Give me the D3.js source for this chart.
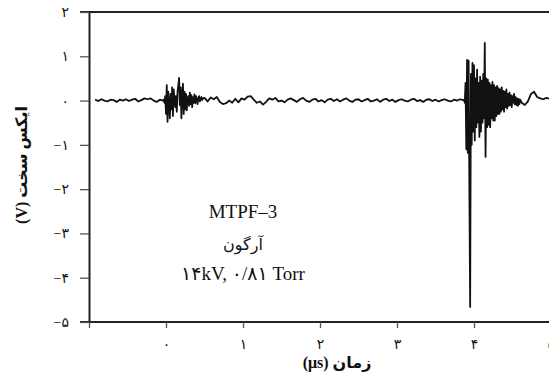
<!DOCTYPE html>
<html>
<head>
<meta charset="utf-8">
<script src="https://cdn.jsdelivr.net/npm/d3@7"></script>
<style>
  body { margin: 0; background: #fff; }
  svg { display: block; }
  .tick text { font-family: 'Liberation Serif', 'DejaVu Sans', serif; font-size: 14px; fill: #111; }
</style>
</head>
<body>
<div class="chart"></div>
<script>
// Hard X-ray signal, MTPF-3, argon
// time axis in microseconds, voltage in volts

// sampled segments of the trace (volts), each with its own start time and step
let preVolts = [0.02, -0.01, 0.03, 0.0, -0.02, 0.02, 0.01, -0.03, 0.02, 0.0, 0.03,
  -0.01, 0.02, 0.04, -0.02, 0.01, 0.05, 0.03, 0.05, 0.0, -0.03, 0.02];
let burst1Volts = [0.0, 0.02, -0.05, 0.1, -0.3, 0.35, -0.48, 0.2, -0.1, -0.4, 0.15,
  -0.2, 0.3, -0.35, 0.25, 0.05, -0.15, 0.1, -0.25, 0.2, 0.35, 0.51, -0.1, 0.3,
  -0.4, 0.1, 0.38, -0.3, 0.2, -0.2, 0.15, -0.22, 0.05, 0.1, -0.12, 0.18, -0.08,
  0.12, -0.15, 0.08, -0.05, 0.14, -0.06, 0.1, 0.02, -0.08, 0.06, 0.1, -0.02, 0.04,
  0.08, 0.01, 0.05];
let midVolts = [0.06, -0.02, 0.07, 0.03, 0.08, -0.03, -0.08, -0.06, 0.0, -0.05, 0.04,
  -0.04, 0.05, 0.02, 0.09, 0.1, 0.02, -0.05, -0.02, -0.09, -0.03, 0.05, 0.02, 0.06,
  -0.02, 0.0, -0.04, 0.02, 0.05, 0.01, -0.03, 0.03, 0.06, 0.0, -0.03, 0.02, 0.04,
  -0.02, 0.01, -0.04, 0.02, 0.04, -0.01, 0.03, -0.02, 0.02, 0.05, 0.0, -0.03, 0.02,
  0.03, -0.02, 0.01, 0.04, -0.02, 0.0, 0.03, -0.03, 0.02, 0.04, -0.01, 0.02, -0.03,
  0.01, 0.03, 0.0, -0.02, 0.02, 0.04, -0.01, 0.01, -0.03, 0.02, 0.03, -0.01, 0.02,
  -0.02, 0.01, 0.03, 0.0, -0.02, 0.02, 0.0, 0.03, 0.01];
let burst2Volts = [0.02, -0.05, 0.4, -1.1, 0.92, -1.18, 0.9, -2.0, -4.66, 0.6, -1.0,
  0.85, -0.7, 0.8, -0.9, 0.5, -0.6, 0.7, -0.5, 0.4, -0.82, 0.54, -0.7, 0.45, -0.5,
  0.6, -0.4, 1.3, -1.27, 0.5, -0.6, 0.47, -0.55, 0.4, -0.6, 0.35, -0.4, 0.42, -0.45,
  0.35, -0.45, 0.3, -0.35, 0.33, -0.3, 0.28, -0.3, 0.25, -0.25, 0.3, -0.2, 0.22,
  -0.25, 0.2, -0.15, 0.25, -0.18, 0.15, -0.12, 0.18, -0.1, 0.12, -0.15, 0.1, -0.05,
  0.15, -0.08, 0.08, -0.1, 0.05, -0.12, 0.04, -0.08, 0.02];
let postVolts = [-0.05, -0.1, -0.02, 0.15, 0.2, 0.08, 0.05, 0.03, 0.06, 0.04];

let segments = [
  {t0: -0.92, dt: 0.04, v: preVolts},
  {t0: -0.04, dt: 0.01, v: burst1Volts},
  {t0: 0.50, dt: 0.04, v: midVolts},
  {t0: 3.87, dt: 0.01, v: burst2Volts},
  {t0: 4.62, dt: 0.04, v: postVolts}
];

// ticks
let xTicks = [-1, 0, 1, 2, 3, 4, 5];
let yTicks = [-5, -4, -3, -2, -1, 0, 1, 2];

// labels
let xTitle = 'زمان (μs)';
let yTitle = 'ایکس سخت (V)';
let noteLines = ['MTPF–3', 'آرگون', '۱۴kV, ۰/۸۱ Torr'];

// Margins
let margin = {top: 12, left: 89};
let width = 462;
let height = 310;

let xScale = d3.scaleLinear().domain([-1, 5]).range([0, width]);
let yScale = d3.scaleLinear().domain([-5, 2]).range([height, 0]);

// persian digits
function fa(n) {
  return String(n).replace(/\d/g, function(d) { return '۰۱۲۳۴۵۶۷۸۹'[+d]; }).replace('-', '−');
}

let data = [];
segments.forEach(function(s) {
  s.v.forEach(function(v, i) {
    data.push({t: s.t0 + i * s.dt, v: v});
  });
});

let svg = d3.select('.chart')
  .append('svg')
  .attr('width', 549)
  .attr('height', 385)
  .append('g')
  .attr('transform', 'translate(' + margin.left + ',' + margin.top + ')');

// top spine
svg.append('line')
  .attr('x1', -9).attr('x2', width)
  .attr('y1', 0).attr('y2', 0)
  .attr('stroke', '#222')
  .attr('stroke-width', 2);

// axes
let xAxis = d3.axisBottom(xScale)
  .tickValues(xTicks)
  .tickSize(6)
  .tickSizeOuter(0)
  .tickPadding(11)
  .tickFormat(function(d) { return d < 0 ? '' : fa(d); });
let yAxis = d3.axisLeft(yScale)
  .tickValues(yTicks)
  .tickSize(9)
  .tickSizeOuter(0)
  .tickPadding(11)
  .tickFormat(fa);

let gx = svg.append('g')
  .attr('transform', 'translate(0,' + height + ')')
  .call(xAxis);
let gy = svg.append('g').call(yAxis);

[gx, gy].forEach(function(g) {
  g.select('.domain').attr('stroke', '#222').attr('stroke-width', 2);
  g.selectAll('.tick line').attr('stroke', '#555').attr('stroke-width', 1.3);
});
gx.select('.domain').attr('d', 'M-9,0H' + width);

// signal trace
let line = d3.line()
  .x(function(d) { return xScale(d.t); })
  .y(function(d) { return yScale(d.v); });

svg.append('path')
  .datum(data)
  .attr('d', line)
  .attr('fill', 'none')
  .attr('stroke', '#111')
  .attr('stroke-width', 1.8)
  .attr('stroke-linejoin', 'round');

// annotation
svg.selectAll('.note')
  .data(noteLines)
  .enter().append('text')
  .attr('class', 'note')
  .attr('x', xScale(1.0))
  .attr('y', function(d, i) { return [206, 238, 268][i]; })
  .attr('text-anchor', 'middle')
  .style('font-family', "'Liberation Serif', 'DejaVu Sans', serif")
  .style('font-size', function(d, i) { return i == 1 ? '16px' : '19px'; })
  .style('fill', '#111')
  .text(function(d) { return d; });

// axis titles
svg.append('text')
  .attr('transform', 'rotate(-90)')
  .attr('x', -153)
  .attr('y', -62)
  .attr('direction', 'rtl')
  .attr('text-anchor', 'middle')
  .style('font-family', "'Liberation Serif', 'DejaVu Sans', serif")
  .style('font-size', '16px')
  .style('font-weight', 'bold')
  .style('fill', '#111')
  .text(yTitle);

svg.append('text')
  .attr('x', 248)
  .attr('y', 356)
  .attr('direction', 'rtl')
  .attr('text-anchor', 'middle')
  .style('font-family', "'Liberation Serif', 'DejaVu Sans', serif")
  .style('font-size', '16px')
  .style('font-weight', 'bold')
  .style('fill', '#111')
  .text(xTitle);
</script>
</body>
</html>
